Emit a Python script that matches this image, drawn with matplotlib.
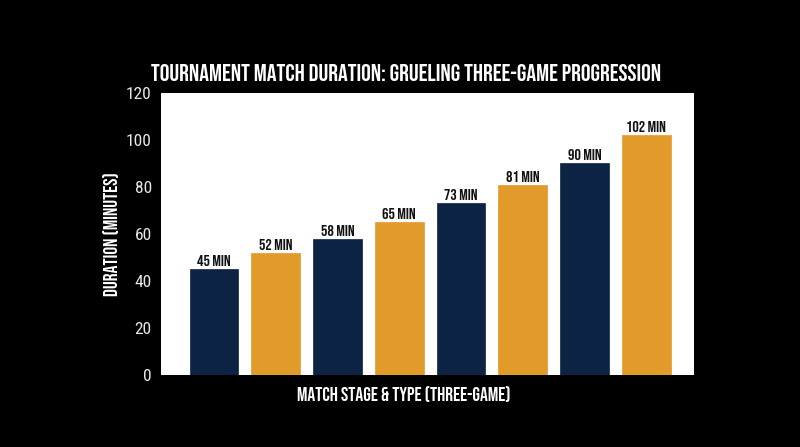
import matplotlib
matplotlib.use("Agg")
import matplotlib.pyplot as plt

TITLE_FONT = ["Bebas Neue", "DejaVu Sans"]
NARROW_FONT = ["Roboto Condensed", "DejaVu Sans"]

stages = ["Stage 1", "Stage 2", "Stage 3", "Stage 4", "Stage 5", "Stage 6", "Stage 7", "Stage 8"]
durations = [45, 52, 58, 65, 73, 81, 90, 102]
labels = ["45 MIN", "52 MIN", "58 MIN", "65 MIN", "73 MIN", "81 MIN", "90 MIN", "102 MIN"]
yticks = [0, 20, 40, 60, 80, 100, 120]

navy = "#0c2343"
orange = "#e29a2b"
colors = [navy if i % 2 == 0 else orange for i in range(len(durations))]

fig = plt.figure(figsize=(8, 4.47), dpi=100, facecolor="black")
ax = fig.add_axes([0.201, 0.161, 0.667, 0.631])
ax.set_facecolor("white")

x = list(range(len(durations)))
ax.bar(x, durations, width=0.79, color=colors, edgecolor=colors, linewidth=0.5)
for xi, v, lab in zip(x, durations, labels):
    ax.text(xi, v + 1.3, lab, ha="center", va="bottom", fontsize=11.5,
            family=TITLE_FONT, color="#111111")

ax.set_xlim(-0.86, 7.78)
ax.set_ylim(0, 120)
ax.set_xticks([])
ax.set_yticks(yticks)
ax.set_yticklabels([str(t) for t in yticks], fontsize=12.5, family=NARROW_FONT,
                   color="#e8e8e8")
ax.tick_params(axis="y", length=0, pad=6.5)
for s in ax.spines.values():
    s.set_visible(False)

fig.text(0.508, 0.838, "TOURNAMENT MATCH DURATION: GRUELING THREE-GAME PROGRESSION",
         ha="center", va="center", fontsize=17.5, family=TITLE_FONT, color="white")
ax.set_ylabel("DURATION (MINUTES)", fontsize=14, family=TITLE_FONT,
              color="white", labelpad=5)
xl = ax.set_xlabel("MATCH STAGE & TYPE (THREE-GAME)", fontsize=14,
                   family=TITLE_FONT, color="white")
ax.xaxis.set_label_coords(0.456, -0.066)
xl.set_va("center")

fig.savefig("out.png", dpi=100, facecolor="black")
